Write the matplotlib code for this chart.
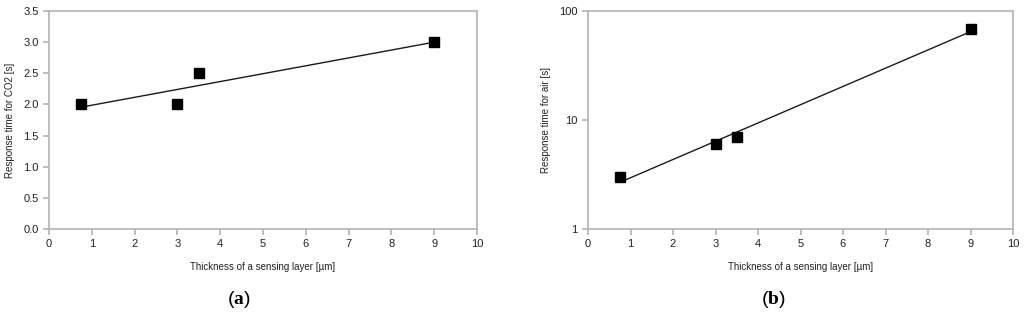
import numpy as np
import matplotlib
matplotlib.use("Agg")
import matplotlib.pyplot as plt
from matplotlib.ticker import FixedLocator, NullLocator, FixedFormatter

# Données
thickness = [0.75, 3.0, 3.5, 9.0]
resp_co2 = [2.0, 2.0, 2.5, 3.0]
resp_air = [3.0, 6.0, 7.0, 68.0]

x_ticks = list(range(0, 11))
co2_ticks = [0.0, 0.5, 1.0, 1.5, 2.0, 2.5, 3.0, 3.5]
air_ticks = [1, 10, 100]

plt.rcParams['font.family'] = ['Liberation Sans', 'DejaVu Sans']
plt.rcParams['mathtext.fontset'] = 'custom'
plt.rcParams['mathtext.rm'] = 'Liberation Serif'
plt.rcParams['mathtext.bf'] = 'Liberation Serif:bold'
grey = '#b3b3b3'
txt = '#222222'

fig = plt.figure(figsize=(10.24, 3.21), dpi=100)
ax1 = fig.add_axes([49/1024, 1 - 229/321, 428/1024, 218/321])
ax2 = fig.add_axes([588/1024, 1 - 229/321, 425/1024, 218/321])

x = np.array(thickness)
xs = np.linspace(x.min(), x.max(), 50)

# (a) tendance linéaire
a, b = np.polyfit(x, resp_co2, 1)
ax1.plot(xs, a * xs + b, color='#1a1a1a', lw=1.0)
ax1.plot(x, resp_co2, 's', color='black', ms=7)
ax1.set_xlim(0, 10)
ax1.set_ylim(0, 3.5)
ax1.set_yticks(co2_ticks)
ax1.set_yticklabels([f"{v:.1f}" for v in co2_ticks])
ax1.set_ylabel("Response time for CO2 [s]", fontsize=7, color=txt, labelpad=6)

# (b) tendance exponentielle
k, c = np.polyfit(x, np.log(resp_air), 1)
ax2.plot(xs, np.exp(k * xs + c), color='#1a1a1a', lw=1.0)
ax2.plot(x, resp_air, 's', color='black', ms=7)
ax2.set_yscale('log')
ax2.set_xlim(0, 10)
ax2.set_ylim(1, 100)
ax2.yaxis.set_major_locator(FixedLocator(air_ticks))
ax2.yaxis.set_major_formatter(FixedFormatter([str(v) for v in air_ticks]))
ax2.yaxis.set_minor_locator(NullLocator())
ax2.set_ylabel("Response time for air [s]", fontsize=7, color=txt, labelpad=6)

for ax in (ax1, ax2):
    ax.set_xticks(x_ticks)
    ax.set_xlabel("Thickness of a sensing layer [µm]", fontsize=7, color=txt, labelpad=9)
    for s in ax.spines.values():
        s.set_color(grey)
        s.set_linewidth(1.2)
    ax.tick_params(colors=grey, labelcolor=txt, labelsize=8, length=4, width=1.2)

fig.text(239/1024, 1 - 300/321, r"($\mathbf{a}$)", fontsize=14, ha='center', va='center')
fig.text(773/1024, 1 - 300/321, r"($\mathbf{b}$)", fontsize=14, ha='center', va='center')

fig.savefig("out.png", dpi=100)
